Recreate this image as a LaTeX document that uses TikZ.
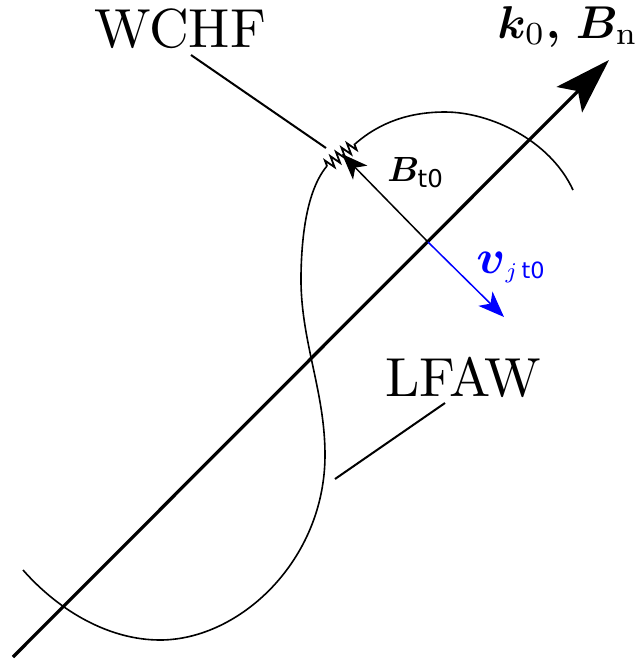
\RequirePackage{fix-cm}
\documentclass[tikz,border=0pt]{standalone}
\usepackage{amsmath}
\usepackage{bm}
\usepackage{graphicx}
\usepackage{fontspec}
\newfontfamily\dvsfont{DejaVu Sans}
\usetikzlibrary{arrows.meta,decorations.pathmorphing}
\begin{document}
\begin{tikzpicture}[x=0.5pt,y=-0.5pt,
  axisline/.style={line width=1.6pt,-{Stealth[length=28pt,width=18pt,inset=6pt]}},
  vecline/.style={line width=0.75pt,-{Stealth[length=13pt,width=10pt,inset=3.5pt]}},
  wave/.style={line width=0.8pt},
  leader/.style={line width=1pt},
  bigtxt/.style={inner sep=0pt},
  lbl/.style={inner sep=0pt,anchor=base west}]
\useasboundingbox (0,0) rectangle (636,666);
% curve
\coordinate (c0) at (23,570);
\coordinate (c1) at (160,640);
\coordinate (c2) at (325,455);
\coordinate (c3) at (301,275);
\coordinate (zA) at (327,166);
\coordinate (zB) at (355,144);
\coordinate (c5) at (445,112);
\coordinate (c6) at (573,190);
\draw[wave] (c0) .. controls (60,612) and (110,640) .. (c1)
  .. controls (240,640) and (325,560) .. (c2)
  .. controls (325,390) and (300,340) .. (c3)
  .. controls (302,210) and (315,180) .. (zA);
\draw[wave,line width=0.9pt,decorate,decoration={zigzag,segment length=3.5pt,amplitude=2.8pt}] (zA) -- (zB);
\draw[wave] (zB) .. controls (380,122) and (410,112) .. (c5)
  .. controls (490,112) and (550,140) .. (c6);
% axis
\coordinate (a0) at (13,657);
\coordinate (a1) at (609,60);
\coordinate (O) at (428,242);
\coordinate (Btip) at (342,154);
\coordinate (vtip) at (504,317);
\draw[axisline] (a0) -- (a1);
\draw[vecline] (O) -- (Btip);
\draw[vecline,blue] (O) -- (vtip);
% labels
\node[bigtxt] (wchf) at (180,29) {\scalebox{2.75}{WCHF}};
\node[bigtxt] (lfaw) at (463,377) {\scalebox{2.75}{LFAW}};
\coordinate (w0) at (191,55);
\coordinate (w1) at (326,148);
\draw[leader] (w0) -- (w1);
\coordinate (l0) at (335,479);
\coordinate (l1) at (445,403);
\draw[leader] (l0) -- (l1);
\node[lbl] (kb) at (497,38) {\scalebox{2.3}{$\bm{k}_0\bm{,}\,\bm{B}_{\mathrm{n}}$}};
\node[lbl] (bt) at (387,181) {\scalebox{1.75}{$\bm{B}_{\text{\dvsfont t0}}$}};
\node[lbl,text=blue] (vt) at (476,273) {\scalebox{1.6}{$\scalebox{1.5}{$\bm{v}$}_{j\,\text{\dvsfont t0}}$}};
\end{tikzpicture}
\end{document}
